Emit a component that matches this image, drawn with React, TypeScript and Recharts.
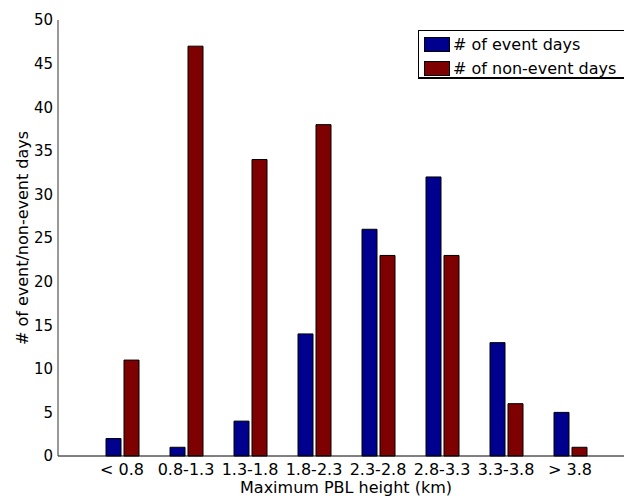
import React from "react";
import { BarChart, Bar, XAxis, YAxis, Legend } from "recharts";

// MATLAB-ish colors
const COLOR_EVENT = "#00008F";
const COLOR_NON = "#7F0000";
const FONT = "'DejaVu Sans', sans-serif";

const categorias = ["< 0.8", "0.8-1.3", "1.3-1.8", "1.8-2.3", "2.3-2.8", "2.8-3.3", "3.3-3.8", "> 3.8"];
const eventDays = [2, 1, 4, 14, 26, 32, 13, 5];
const nonEventDays = [11, 47, 34, 38, 23, 23, 6, 1];
const yTicks = [0, 5, 10, 15, 20, 25, 30, 35, 40, 45, 50];

const data = categorias.map((c, i) => ({
  cat: c,
  event: eventDays[i],
  nonEvent: nonEventDays[i],
}));

function LegendBox() {
  const row = (color: string, text: string) => (
    <div style={{ display: "flex", alignItems: "center", height: 24 }}>
      <div style={{ width: 26, height: 15, background: color, border: "1px solid #000", boxSizing: "border-box", marginRight: 3 }} />
      <span style={{ fontSize: 16, color: "#000", whiteSpace: "nowrap" }}>{text}</span>
    </div>
  );
  return (
    <div
      style={{
        position: "absolute", left: 418, top: 30, width: 215, height: 49,
        border: "1px solid #000", borderBottomWidth: 2, boxSizing: "border-box",
        background: "#fff", padding: "1px 0 0 5px", fontFamily: FONT,
      }}
    >
      {row(COLOR_EVENT, "# of event days")}
      {row(COLOR_NON, "# of non-event days")}
    </div>
  );
}

export default function App() {
  return (
    <div style={{ position: "absolute", left: 0, top: 0, width: 624, height: 496, overflow: "hidden", background: "#fff", fontFamily: FONT }}>
      <BarChart
        width={640}
        height={496}
        data={data}
        margin={{ top: 20, right: 6, left: 0, bottom: 0 }}
        barSize={15}
        barGap={3}
      >
        <XAxis
          dataKey="cat"
          interval={0}
          tickLine={false}
          axisLine={{ stroke: "#000" }}
          padding={{ left: 32, right: 32 }}
          height={40}
          tick={{ fontSize: 16, fill: "#000", fontFamily: FONT }}
          label={{ value: "Maximum PBL height (km)", position: "center", dy: 11, fontSize: 16, fill: "#000", fontFamily: FONT }}
        />
        <YAxis
          width={58}
          domain={[0, 50]}
          ticks={yTicks}
          interval={0}
          tickLine={false}
          tickSize={3}
          axisLine={{ stroke: "#333" }}
          tick={{ fontSize: 15, fill: "#000", fontFamily: FONT }}
          label={{ value: "# of event/non-event days", angle: -90, position: "center", dx: -7, fontSize: 16, fill: "#000", fontFamily: FONT }}
        />
        <Legend content={() => <LegendBox />} wrapperStyle={{ position: "absolute", left: 0, top: 0, width: 0, height: 0 }} />
        <Bar dataKey="event" name="# of event days" fill={COLOR_EVENT} stroke="#000" strokeWidth={1} isAnimationActive={false} />
        <Bar dataKey="nonEvent" name="# of non-event days" fill={COLOR_NON} stroke="#000" strokeWidth={1} isAnimationActive={false} />
      </BarChart>
    </div>
  );
}
